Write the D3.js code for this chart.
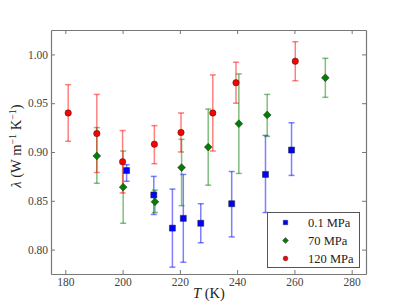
<!DOCTYPE html>
<html>
<head>
<meta charset="utf-8">
<script src="https://cdn.jsdelivr.net/npm/d3@7"></script>
<style>
  body { margin: 0; background: #fff; }
</style>
</head>
<body>
<div id="chart"></div>
<script>
// data: T (K), lambda, lower and upper error ends
const tLow  = [201.4, 210.9, 217.4, 221.2, 227.3, 238.1, 249.9, 259.0];
const lamLow = [0.881, 0.856, 0.822, 0.832, 0.827, 0.847, 0.877, 0.902];
const loLow  = [0.870, 0.836, 0.782, 0.787, 0.807, 0.813, 0.838, 0.876];
const hiLow  = [0.887, 0.875, 0.862, 0.877, 0.847, 0.880, 0.917, 0.930];

const tMid  = [191.0, 200.2, 211.3, 220.6, 229.9, 240.6, 250.5, 270.8];
const lamMid = [0.896, 0.864, 0.849, 0.884, 0.905, 0.929, 0.938, 0.976];
const loMid  = [0.868, 0.827, 0.838, 0.845, 0.866, 0.878, 0.916, 0.956];
const hiMid  = [0.925, 0.901, 0.861, 0.913, 0.944, 0.980, 0.959, 0.996];

const tHigh  = [181.0, 191.0, 200.0, 211.1, 220.4, 231.5, 239.6, 260.3];
const lamHigh = [0.940, 0.919, 0.890, 0.908, 0.920, 0.940, 0.971, 0.993];
const loHigh  = [0.911, 0.879, 0.858, 0.888, 0.900, 0.901, 0.950, 0.973];
const hiHigh  = [0.969, 0.959, 0.922, 0.927, 0.940, 0.979, 0.992, 1.013];

const xTicks = [180, 200, 220, 240, 260, 280];
const yTicks = [0.80, 0.85, 0.90, 0.95, 1.00];

const FONT = "'Liberation Serif', 'Times New Roman', serif";

// marker shapes: square, matplotlib-like diamond (rotated square), circle
const square = r => `M${-r},${-r}H${r}V${r}H${-r}Z`;
const diamond = r => `M0,${-r}L${r},0L0,${r}L${-r},0Z`;
const circle = r => `M${r},0A${r},${r} 0 1,1 ${-r},0A${r},${r} 0 1,1 ${r},0Z`;

const series = [
  {name: "0.1 MPa", t: tLow, v: lamLow, lo: loLow, hi: hiLow, color: "#0000ff", shape: square, r: 3},
  {name: "70 MPa", t: tMid, v: lamMid, lo: loMid, hi: hiMid, color: "#008000", shape: diamond, r: 3.9},
  {name: "120 MPa", t: tHigh, v: lamHigh, lo: loHigh, hi: hiHigh, color: "#ff0000", shape: circle, r: 3.2}
];

const W = 407, H = 305;
const m = {left: 51, right: 366, top: 30, bottom: 274};

const svg = d3.select("#chart").append("svg")
  .attr("width", W).attr("height", H)
  .style("font-family", FONT);

const x = d3.scaleLinear().domain([175, 285]).range([m.left, m.right]);
const y = d3.scaleLinear().domain([0.775, 1.025]).range([m.bottom, m.top]);

const axisColor = "#777";

// axes with inward ticks on all four sides
const axB = svg.append("g").attr("transform", `translate(0,${m.bottom})`)
  .call(d3.axisBottom(x).tickValues(xTicks).tickSizeInner(-4).tickSizeOuter(0).tickPadding(4));
const axT = svg.append("g").attr("transform", `translate(0,${m.top})`)
  .call(d3.axisTop(x).tickValues(xTicks).tickSizeInner(-4).tickSizeOuter(0).tickFormat(""));
const axL = svg.append("g").attr("transform", `translate(${m.left},0)`)
  .call(d3.axisLeft(y).tickValues(yTicks).tickSizeInner(-4).tickSizeOuter(0).tickPadding(3).tickFormat(d3.format(".2f")));
const axR = svg.append("g").attr("transform", `translate(${m.right},0)`)
  .call(d3.axisRight(y).tickValues(yTicks).tickSizeInner(-4).tickSizeOuter(0).tickFormat(""));

[axB, axT, axL, axR].forEach(a => {
  a.attr("font-family", FONT);
  a.select(".domain").attr("stroke", axisColor).attr("stroke-width", 1.2);
  a.selectAll(".tick line").attr("stroke", axisColor);
  a.selectAll(".tick text").attr("fill", "#444").attr("font-size", 11.5)
    .style("font-family", FONT);
});

// error bars, half transparent like the original
series.forEach(s => {
  const g = svg.append("g").attr("stroke", s.color).attr("stroke-opacity", 0.5)
    .attr("stroke-width", 1.5).attr("fill", "none");
  s.t.forEach((t, i) => {
    const cx = x(t);
    g.append("line").attr("x1", cx).attr("x2", cx).attr("y1", y(s.lo[i])).attr("y2", y(s.hi[i]));
    [s.lo[i], s.hi[i]].forEach(e => {
      g.append("line").attr("x1", cx - 3).attr("x2", cx + 3).attr("y1", y(e)).attr("y2", y(e));
    });
  });
});

// markers
series.forEach(s => {
  svg.append("g").selectAll("path")
    .data(s.t.map((t, i) => [t, s.v[i]]))
    .join("path")
      .attr("d", s.shape(s.r))
      .attr("transform", d => `translate(${x(d[0])},${y(d[1])})`)
      .attr("fill", s.color)
      .attr("stroke", "#222")
      .attr("stroke-width", 0.5);
});

// legend
const lg = svg.append("g");
lg.append("rect").attr("x", 267.5).attr("y", 212.5).attr("width", 92).attr("height", 55)
  .attr("fill", "#fff").attr("stroke", "#555").attr("stroke-width", 1);
series.forEach((s, i) => {
  const ly = 222.5 + i * 18;
  lg.append("path")
    .attr("d", s.shape(s.r * 0.75))
    .attr("transform", `translate(285.5,${ly})`)
    .attr("fill", s.color).attr("stroke", "#222").attr("stroke-width", 0.4);
  lg.append("text").attr("x", 308).attr("y", ly + 4.5)
    .style("font-family", FONT)
    .attr("font-size", 12.5).attr("fill", "#222").text(s.name);
});

// axis labels
svg.append("text")
  .attr("x", 209).attr("y", 298)
  .style("font-family", FONT)
  .attr("text-anchor", "middle").attr("font-size", 14.5).attr("fill", "#222")
  .call(t => {
    t.append("tspan").attr("font-style", "italic").text("T");
    t.append("tspan").text(" (K)");
  });

const yl = svg.append("text")
  .attr("transform", "translate(21,146) rotate(-90)")
  .style("font-family", FONT)
  .attr("text-anchor", "middle").attr("font-size", 14.5).attr("fill", "#222");
yl.append("tspan").attr("font-style", "italic").text("λ");
yl.append("tspan").text(" (W m");
yl.append("tspan").attr("dy", -5.5).attr("font-size", 10).text("−1");
yl.append("tspan").attr("dy", 5.5).text(" K");
yl.append("tspan").attr("dy", -5.5).attr("font-size", 10).text("−1");
yl.append("tspan").attr("dy", 5.5).text(")");
</script>
</body>
</html>
